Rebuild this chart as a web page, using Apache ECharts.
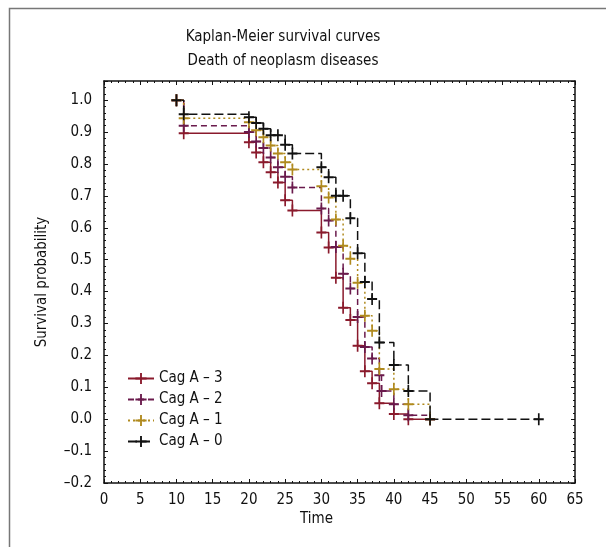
<!DOCTYPE html>
<html>
<head>
<meta charset="utf-8">
<script src="https://cdn.jsdelivr.net/npm/echarts@6/dist/echarts.min.js"></script>
<style>
  html, body { margin: 0; padding: 0; background: #fff; }
  #chart { width: 606px; height: 547px; }
</style>
</head>
<body>
<div id="chart"></div>
<script>
// survival data (time, survival probability)
const timesA3 = [10, 11, 20, 21, 22, 23, 24, 25, 26, 30, 31, 32, 33, 34, 35, 36, 37, 38, 40, 42, 45]
const survA3 = [1.0, 0.896, 0.868, 0.836, 0.805, 0.774, 0.742, 0.686, 0.654, 0.585, 0.538, 0.443, 0.349, 0.311, 0.23, 0.15, 0.113, 0.05, 0.016, 0, 0]

const timesA2 = [10, 11, 20, 21, 22, 23, 24, 25, 26, 30, 31, 32, 33, 34, 35, 36, 37, 38, 38.3, 40, 42, 45]
const survA2 = [1.0, 0.92, 0.90, 0.87, 0.85, 0.82, 0.79, 0.76, 0.726, 0.66, 0.623, 0.54, 0.456, 0.41, 0.32, 0.226, 0.19, 0.138, 0.088, 0.047, 0.012, 0]

const timesA1 = [10, 11, 20, 21, 22, 23, 24, 25, 26, 30, 31, 32, 33, 34, 35, 36, 37, 38, 40, 42, 45]
const survA1 = [1.0, 0.943, 0.931, 0.906, 0.884, 0.858, 0.833, 0.805, 0.783, 0.73, 0.695, 0.626, 0.544, 0.503, 0.428, 0.324, 0.277, 0.157, 0.094, 0.047, 0]

const timesA0 = [10, 11, 20, 21, 22, 23, 24, 25, 26, 30, 31, 32, 33, 34, 35, 36, 37, 38, 40, 42, 45, 60]
const survA0 = [1.0, 0.956, 0.946, 0.928, 0.91, 0.89, 0.89, 0.86, 0.833, 0.79, 0.758, 0.70, 0.70, 0.63, 0.52, 0.43, 0.377, 0.24, 0.17, 0.088, 0, 0]

const xTicks = { min: 0, max: 65, interval: 5 }
const yTicks = { min: -0.2, max: 1.06, interval: 0.1 }

const FONT = '"Liberation Sans Narrow", "DejaVu Sans Condensed", "Noto Sans", sans-serif'
const plus = 'path://M-1,-6H1V-1H6V1H1V6H-1V1H-6V-1H-1Z'

const zip = (t, s) => t.map((v, i) => [v, s[i]])

const chart = echarts.init(document.getElementById('chart'), null, { renderer: 'canvas' })

function kmSeries(name, times, surv, color, type) {
    return {
        name: name,
        type: 'line',
        step: 'end',
        data: zip(times, surv),
        symbol: plus,
        symbolSize: [10, 12],
        showAllSymbol: true,
        color: color,
        itemStyle: { color: color },
        lineStyle: { color: color, width: 1.5, type: type },
        emphasis: { disabled: true }
    }
}

const axisCommon = {
    axisLine: { show: true, onZero: false, lineStyle: { color: '#111', width: 1.5 } },
    axisTick: { show: true, inside: true, length: 4, lineStyle: { color: '#111' } },
    minorTick: { show: true, splitNumber: 5, length: 2, lineStyle: { color: '#111' } },
    splitLine: { show: false }
}

const option = {
    animation: false,
    backgroundColor: '#fff',
    title: [{
        text: 'Kaplan-Meier survival curves',
        left: 278, top: 25,
        textAlign: 'center',
        textStyle: { fontFamily: FONT, fontSize: 15, fontWeight: 'normal', color: '#111' }
    }, {
        text: 'Death of neoplasm diseases',
        left: 278, top: 49,
        textAlign: 'center',
        textStyle: { fontFamily: FONT, fontSize: 15, fontWeight: 'normal', color: '#111' }
    }],
    graphic: [{
        type: 'polyline',
        shape: { points: [[9.5, 547], [9.5, 8.5], [606, 8.5]] },
        style: { stroke: '#777', lineWidth: 1.5, fill: null }
    }, {
        type: 'text',
        left: 300, top: 512,
        style: { text: 'Time', font: '15px ' + FONT, fill: '#111' }
    }],
    legend: {
        orient: 'vertical',
        left: 122, top: 366,
        itemWidth: 26, itemHeight: 14, itemGap: 6,
        textStyle: { fontFamily: FONT, fontSize: 15, color: '#111' },
        data: ['Cag A – 3', 'Cag A – 2', 'Cag A – 1', 'Cag A – 0']
    },
    grid: { left: 104, right: 31, top: 81, bottom: 64 },
    xAxis: [Object.assign({
        type: 'value',
        min: xTicks.min, max: xTicks.max, interval: xTicks.interval,
        axisLabel: { fontFamily: FONT, fontSize: 15, color: '#111', margin: 10 }
    }, axisCommon), Object.assign({
        type: 'value', position: 'top',
        min: xTicks.min, max: xTicks.max, interval: xTicks.interval,
        axisLabel: { show: false }
    }, axisCommon)],
    yAxis: [Object.assign({
        type: 'value',
        min: yTicks.min, max: yTicks.max, interval: yTicks.interval,
        name: 'Survival probability',
        nameLocation: 'middle', nameGap: 54, nameRotate: 90,
        nameTextStyle: { fontFamily: FONT, fontSize: 15, color: '#111' },
        axisLabel: {
            fontFamily: FONT, fontSize: 15, color: '#111', margin: 12,
            showMaxLabel: false,
            formatter: v => (v < -1e-9 ? '–' : '') + Math.abs(v).toFixed(1)
        }
    }, axisCommon), Object.assign({
        type: 'value', position: 'right',
        min: yTicks.min, max: yTicks.max, interval: yTicks.interval,
        axisLabel: { show: false }
    }, axisCommon)],
    series: [
        kmSeries('Cag A – 3', timesA3, survA3, '#8a1a2c', 'solid'),
        kmSeries('Cag A – 2', timesA2, survA2, '#6a1a4c', [6, 4]),
        kmSeries('Cag A – 1', timesA1, survA1, '#b08a1e', [2, 3]),
        kmSeries('Cag A – 0', timesA0, survA0, '#111111', [9, 4])
    ]
}

chart.setOption(option)
</script>
</body>
</html>
